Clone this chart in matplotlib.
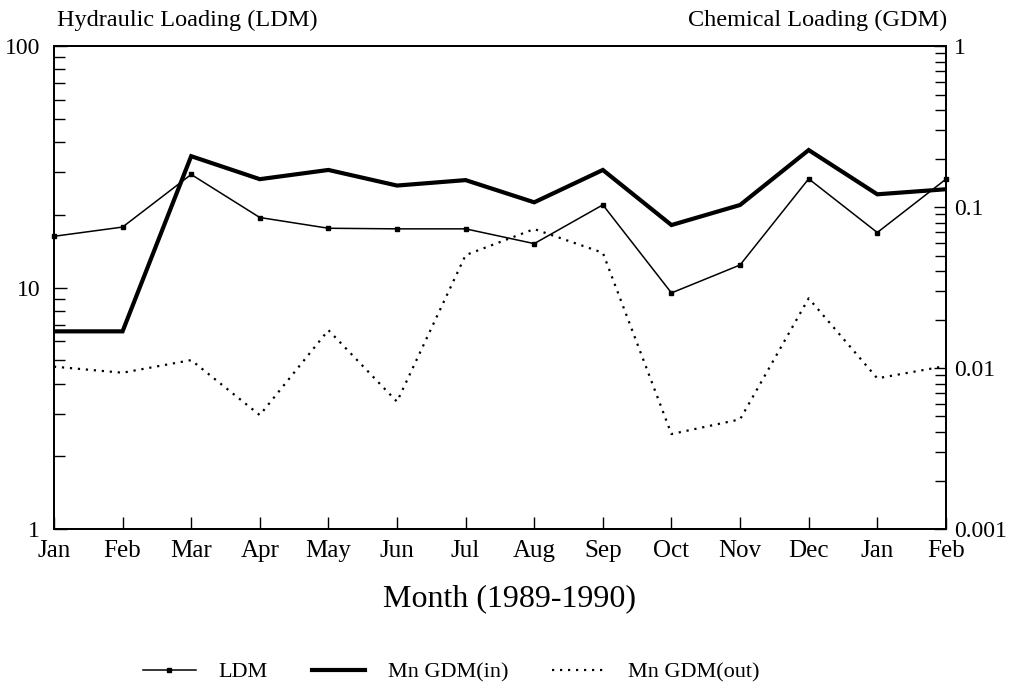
import numpy as np
import matplotlib
matplotlib.use('Agg')
from matplotlib import pyplot as plt
from matplotlib.ticker import FixedLocator, LogLocator, FuncFormatter, NullFormatter

plt.rcParams['font.family'] = ['Liberation Serif', 'DejaVu Serif']

months = ['Jan', 'Feb', 'Mar', 'Apr', 'May', 'Jun', 'Jul',
          'Aug', 'Sep', 'Oct', 'Nov', 'Dec', 'Jan', 'Feb']

# hydraulic loading, left axis
ldm = [16.3, 17.8, 29.4, 19.5, 17.6, 17.5, 17.5,
       15.2, 22.0, 9.5, 12.4, 28.2, 16.9, 28.1]
# chemical loading, right axis
gdm_in = [0.0169, 0.0169, 0.207, 0.149, 0.170, 0.136, 0.147,
          0.107, 0.170, 0.0773, 0.103, 0.226, 0.120, 0.129]
gdm_out = [0.0102, 0.00935, 0.0112, 0.0051, 0.0172, 0.00618, 0.0503,
           0.073, 0.052, 0.00389, 0.0048, 0.0271, 0.00863, 0.0103]

x = np.arange(len(months))

fig = plt.figure(figsize=(10.16, 6.98), dpi=100)
ax = fig.add_axes([0.0531, 0.2421, 0.8779, 0.6919])
ax2 = ax.twinx()

l1, = ax.plot(x, ldm, color='black', lw=1.1, marker='s', ms=3.5,
              label='LDM', clip_on=False, zorder=3)
l2, = ax2.plot(x, gdm_in, color='black', lw=3.0, label='Mn GDM(in)',
               solid_joinstyle='miter')
l3, = ax2.plot(x, gdm_out, color='black', lw=1.6, ls=(0, (1, 2.6)),
               label='Mn GDM(out)')

ax.set_yscale('log')
ax.set_ylim(1, 100)
ax2.set_yscale('log')
ax2.set_ylim(0.001, 1)
ax.set_xlim(0, 13)

plain = FuncFormatter(lambda v, p: '{:g}'.format(v))
ax.yaxis.set_major_locator(FixedLocator([1, 10, 100]))
ax.yaxis.set_minor_locator(LogLocator(base=10, subs=np.arange(2, 10)))
ax.yaxis.set_major_formatter(plain)
ax.yaxis.set_minor_formatter(NullFormatter())
ax2.yaxis.set_major_locator(FixedLocator([0.001, 0.01, 0.1, 1]))
ax2.yaxis.set_minor_locator(LogLocator(base=10, subs=np.arange(2, 10)))
ax2.yaxis.set_major_formatter(plain)
ax2.yaxis.set_minor_formatter(NullFormatter())

ax.set_xticks(x)
ax.set_xticklabels(months)

ax.tick_params(axis='x', direction='in', length=9, width=1, labelsize=18, pad=8)
ax.tick_params(axis='y', which='major', direction='in', length=9, width=1,
               labelsize=17, pad=10)
ax.tick_params(axis='y', which='minor', direction='in', length=8, width=1)
ax2.tick_params(axis='y', which='major', direction='in', length=9, width=1,
                labelsize=17, pad=6)
ax2.tick_params(axis='y', which='minor', direction='in', length=8, width=1)

for a in (ax, ax2):
    for s in a.spines.values():
        s.set_linewidth(1.3)

ax.set_xlabel('Month (1989-1990)', fontsize=23, labelpad=20)
ax.xaxis.set_label_coords(0.511, -0.115)

fig.text(0.056, 0.955, 'Hydraulic Loading (LDM)', fontsize=17.5, ha='left', va='bottom')
fig.text(0.932, 0.955, 'Chemical Loading (GDM)', fontsize=17.5, ha='right', va='bottom')

fig.legend(handles=[l1, l2, l3], loc='center', bbox_to_anchor=(0.444, 0.037),
           ncol=3, frameon=False, fontsize=16, handlelength=2.4,
           columnspacing=2.0, handletextpad=1.0)

fig.savefig('out.png', dpi=100)
